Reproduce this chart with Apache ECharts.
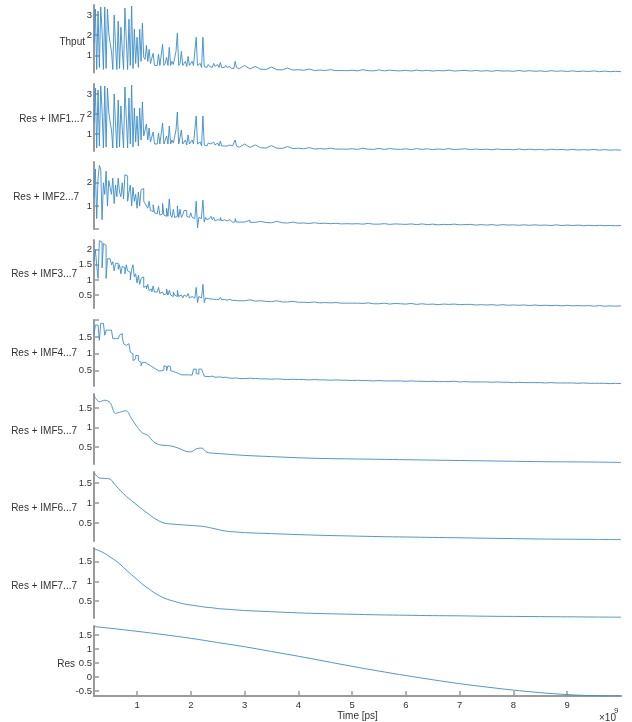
<!DOCTYPE html>
<html>
<head>
<meta charset="utf-8">
<script src="https://cdn.jsdelivr.net/npm/echarts@6/dist/echarts.min.js"></script>
<style>html,body{margin:0;padding:0;background:#fff}#c{width:632px;height:722px}</style>
</head>
<body>
<div id="c"></div>
<script>
// ---- time grids (units of 1e9 ps) ----
const tDenseStart = 0.2, tDenseStep = 0.025, tDenseCount = 108;
const tTailStart = 2.9, tTailStep = 0.1, tTailCount = 72;
// smooth-series time points
const tSmooth = [0.2,0.3,0.4,0.5,0.6,0.7,0.8,0.9,1.0,1.1,1.2,1.3,1.4,1.5,1.6,1.7,1.8,1.9,2.0,2.1,2.2,2.3,2.4,2.5,2.6,2.7,2.8,2.9,3.0,3.5,4.0,4.5,5.0,5.5,6.0,6.5,7.0,7.5,8.0,8.5,9.0,9.5,10.0];
const tRes = [0.2,0.5,1.0,1.5,2.0,2.5,3.0,3.5,4.0,4.5,5.0,5.5,6.0,6.5,7.0,7.5,8.0,8.5,9.0,9.5,10.0];

// ---- labels ----
const rowLabels = ['Thput','Res + IMF1...7','Res + IMF2...7','Res + IMF3...7','Res + IMF4...7','Res + IMF5...7','Res + IMF6...7','Res + IMF7...7','Res'];
const xTicks = [1,2,3,4,5,6,7,8,9];
const xTitle = 'Time [ps]';

// ---- series values ----
const thputHead = [
 1.6,3.3,0.3,3.2,0.4,3.4,2.2,0.3,3.4,0.35,
 3.3,2.1,1.6,1.2,0.3,3.0,1.5,0.3,2.7,0.35,
 2.4,1.3,0.3,3.35,3.3,0.3,2.8,0.5,3.45,0.35,
 2.3,0.6,1.9,0.4,2.3,0.7,2.6,0.9,0.8,1.5,
 0.7,1.3,0.6,0.55,1.1,0.5,0.55,0.5,1.05,0.5,
 0.55,1.55,0.5,0.6,0.9,0.5,1.4,0.5,0.7,0.55,
 0.6,1.2,2.1,0.5,0.6,1.2,0.5,0.6,0.7,0.45,
 0.95,0.5,0.45,0.7,0.5,0.45,1.9,0.5,0.45,0.6,
 0.4,1.9,0.45,0.5,0.4,0.55,0.45,0.5,0.4,0.6,
 0.45,0.42,0.55,0.4,0.65,0.4,0.45,0.4,0.5,0.4,
 0.38,0.45,0.35,0.4,0.35,0.7,0.4,0.35];
const thputTail = [
 0.34,0.50,0.33,0.45,0.31,0.30,0.42,0.29,0.28,0.37,
 0.27,0.29,0.26,0.32,0.25,0.27,0.25,0.29,0.24,0.25,
 0.24,0.26,0.23,0.29,0.24,0.23,0.28,0.23,0.27,0.24,
 0.23,0.26,0.22,0.27,0.23,0.26,0.22,0.25,0.23,0.27,
 0.22,0.24,0.26,0.22,0.25,0.22,0.24,0.21,0.25,0.22,
 0.23,0.21,0.25,0.21,0.24,0.21,0.23,0.2,0.24,0.21,
 0.23,0.2,0.23,0.2,0.22,0.2,0.23,0.19,0.22,0.19,
 0.21,0.19];
// Res + IMF1..7 reconstructs the full signal
const imf1Head = thputHead;
const imf1Tail = thputTail;

const imf2Head = [
 1.35,2.6,0.45,2.2,2.75,2.6,0.4,2.0,1.5,2.5,
 1.0,2.1,1.8,1.5,2.2,1.1,1.9,1.4,2.2,1.6,
 1.4,2.0,1.3,2.35,2.3,1.2,1.6,1.9,1.0,1.8,
 1.2,1.5,0.9,1.6,1.0,1.7,1.75,1.2,1.1,1.0,
 0.9,1.2,0.8,0.75,1.05,0.7,0.65,0.7,1.0,0.6,
 0.65,1.1,0.6,0.55,0.9,0.55,1.3,0.6,0.5,0.85,
 0.5,0.55,1.0,0.5,0.85,0.5,0.6,0.8,0.8,0.55,
 0.5,0.45,0.7,0.5,0.45,0.5,1.2,0.05,0.5,0.45,
 0.55,1.25,0.3,0.5,0.4,0.45,0.4,0.55,0.4,0.5,
 0.35,0.4,0.35,0.38,0.5,0.35,0.4,0.33,0.35,0.32,
 0.4,0.32,0.3,0.35,0.3,0.45,0.3,0.3];
const imf2Tail = [
 0.3,0.38,0.29,0.33,0.28,0.27,0.33,0.27,0.26,0.3,
 0.25,0.26,0.24,0.27,0.24,0.25,0.23,0.25,0.22,0.23,
 0.22,0.23,0.21,0.24,0.21,0.21,0.23,0.2,0.22,0.21,
 0.2,0.22,0.19,0.22,0.19,0.21,0.18,0.2,0.19,0.21,
 0.18,0.19,0.2,0.17,0.19,0.17,0.19,0.16,0.19,0.17,
 0.18,0.16,0.18,0.16,0.18,0.16,0.17,0.15,0.18,0.15,
 0.17,0.15,0.17,0.14,0.16,0.14,0.16,0.14,0.15,0.14,
 0.15,0.13];

const imf3Head = [
 1.6,2.0,1.5,1.05,2.3,2.25,1.4,2.2,2.15,1.05,
 1.7,1.7,1.65,1.5,1.6,1.3,1.55,1.55,1.35,1.5,
 1.2,1.45,1.4,1.2,1.5,1.3,1.25,1.0,1.35,1.5,
 1.1,1.2,0.9,1.15,0.85,1.05,1.1,0.75,0.8,0.7,
 0.85,0.65,0.7,0.6,0.8,0.6,0.6,0.55,0.75,0.55,
 0.6,0.6,0.5,0.55,0.7,0.5,0.65,0.5,0.45,0.6,
 0.5,0.45,0.65,0.45,0.5,0.55,0.4,0.5,0.45,0.4,
 0.55,0.4,0.45,0.5,0.4,0.45,0.75,0.25,0.45,0.4,
 0.4,0.85,0.25,0.4,0.38,0.4,0.37,0.42,0.36,0.4,
 0.35,0.36,0.35,0.36,0.42,0.34,0.35,0.34,0.33,0.34,
 0.36,0.33,0.32,0.33,0.32,0.35,0.31,0.31];
const imf3Tail = [
 0.31,0.34,0.3,0.31,0.29,0.28,0.31,0.27,0.27,0.29,
 0.26,0.26,0.25,0.27,0.24,0.25,0.24,0.25,0.23,0.23,
 0.23,0.23,0.22,0.24,0.21,0.21,0.23,0.2,0.22,0.21,
 0.2,0.22,0.19,0.21,0.19,0.2,0.18,0.2,0.19,0.2,
 0.18,0.19,0.19,0.17,0.18,0.17,0.18,0.16,0.18,0.16,
 0.17,0.16,0.17,0.15,0.17,0.15,0.16,0.15,0.16,0.14,
 0.16,0.14,0.15,0.14,0.15,0.13,0.15,0.13,0.14,0.13,
 0.14,0.13];

const imf4Head = [
 1.55,1.85,1.85,1.8,1.4,1.9,1.9,1.85,1.55,1.7,
 1.7,1.65,1.7,1.65,1.45,1.45,1.5,1.45,1.5,1.55,
 1.6,1.5,1.3,1.25,1.2,1.3,1.3,1.05,1.0,0.8,
 0.85,0.95,0.95,0.8,0.75,0.65,0.75,0.75,0.7,0.7,
 0.65,0.65,0.6,0.6,0.55,0.55,0.5,0.5,0.55,0.5,
 0.5,0.52,0.65,0.62,0.5,0.65,0.62,0.5,0.48,0.48,
 0.45,0.45,0.42,0.4,0.38,0.4,0.38,0.4,0.38,0.37,
 0.38,0.36,0.37,0.36,0.55,0.55,0.42,0.4,0.55,0.55,
 0.55,0.45,0.34,0.33,0.35,0.33,0.32,0.34,0.32,0.31,
 0.33,0.31,0.3,0.32,0.31,0.3,0.3,0.31,0.29,0.29,
 0.3,0.28,0.29,0.28,0.28,0.29,0.27,0.27];
const imf4Tail = [
 0.27,0.28,0.27,0.26,0.26,0.25,0.26,0.25,0.24,0.25,
 0.24,0.24,0.23,0.24,0.23,0.23,0.22,0.23,0.22,0.22,
 0.21,0.22,0.21,0.21,0.2,0.21,0.2,0.2,0.2,0.2,
 0.19,0.2,0.19,0.19,0.18,0.19,0.18,0.18,0.18,0.19,
 0.17,0.18,0.17,0.17,0.17,0.17,0.16,0.17,0.16,0.16,
 0.15,0.16,0.15,0.15,0.15,0.15,0.14,0.15,0.14,0.14,
 0.14,0.14,0.13,0.14,0.13,0.13,0.13,0.13,0.12,0.13,
 0.12,0.12];

const imf5 = [1.82,1.66,1.70,1.64,1.36,1.40,1.43,1.22,1.02,0.86,0.80,0.64,0.56,0.54,0.53,0.50,0.45,0.39,0.37,0.45,0.47,0.36,0.34,0.33,0.32,0.31,0.30,0.29,0.28,0.25,0.22,0.20,0.19,0.18,0.17,0.16,0.15,0.14,0.13,0.12,0.115,0.11,0.10];
const imf6 = [1.76,1.63,1.62,1.60,1.45,1.30,1.17,1.06,0.95,0.84,0.74,0.64,0.56,0.50,0.48,0.47,0.46,0.45,0.44,0.43,0.42,0.40,0.37,0.34,0.31,0.29,0.28,0.27,0.26,0.235,0.21,0.19,0.175,0.16,0.15,0.14,0.13,0.12,0.11,0.10,0.095,0.09,0.085];
const imf7 = [1.83,1.78,1.71,1.62,1.53,1.42,1.29,1.17,1.05,0.93,0.83,0.73,0.65,0.58,0.53,0.49,0.45,0.42,0.40,0.38,0.36,0.34,0.33,0.31,0.30,0.29,0.28,0.27,0.26,0.23,0.20,0.18,0.165,0.15,0.14,0.13,0.125,0.115,0.11,0.105,0.10,0.095,0.09];
const res = [1.80,1.74,1.63,1.51,1.38,1.23,1.08,0.91,0.74,0.56,0.38,0.21,0.05,-0.10,-0.24,-0.36,-0.47,-0.56,-0.63,-0.67,-0.68];

// ---- axis tick values ----
const yTickSets = [[1,2,3],[1,2,3],[0,1,2],[0.5,1,1.5,2],[0.5,1,1.5,2],[0.5,1,1.5],[0.5,1,1.5],[0.5,1,1.5],[-0.5,0,0.5,1,1.5]];
const yLabelSets = [[1,2,3],[1,2,3],[1,2],[0.5,1,1.5,2],[0.5,1,1.5],[0.5,1,1.5],[0.5,1,1.5],[0.5,1,1.5],[-0.5,0,0.5,1,1.5]];
const yMins = [0.15,0.15,0,0.07,0.05,0.06,0.05,0.07,-0.68];
const yMaxs = [3.5,3.5,2.9,2.32,2,1.86,1.78,1.85,1.82];

// ---- layout (styling only) ----
const gridTops = [5,84,162,240,320,394,472,548,626];
const gridHeights = [67.5,67,67,68,66,70,69,70,70];
const nameGaps = [9,9,15,17,17,17,17,17,19];
const nameShift = [3,2,2,0,0,2,2,3,3];
const useStep = [false,false,true,true,true,false,false,false,false];

function noisyData(head, tail){
  const out = [];
  for (let i=0;i<head.length;i++) out.push([+(tDenseStart + i*tDenseStep).toFixed(4), head[i]]);
  for (let i=0;i<tail.length;i++) out.push([+(tTailStart + i*tTailStep).toFixed(4), tail[i]]);
  return out;
}
function zip(t, v){ return t.map((x,i)=>[x, v[i]]); }

const seriesData = [
  noisyData(thputHead, thputTail),
  noisyData(imf1Head, imf1Tail),
  noisyData(imf2Head, imf2Tail),
  noisyData(imf3Head, imf3Tail),
  noisyData(imf4Head, imf4Tail),
  zip(tSmooth, imf5),
  zip(tSmooth, imf6),
  zip(tSmooth, imf7),
  zip(tRes, res)
];

const axisGray = '#9a9a9a';
const txt = '#333333';
const font = 'Liberation Sans, Arial, Helvetica, sans-serif';
const lineColor = '#3a8ccb';
const tickFont = 9.5;

const grids = [], xAxes = [], yAxes = [], series = [];
for (let k=0;k<9;k++){
  const last = k === 8;
  grids.push({left:94, width:527, top:gridTops[k], height:gridHeights[k]});
  xAxes.push({
    type:'value', gridIndex:k, min:0.2, max:10, show:last,
    name: last ? xTitle : '', nameLocation:'middle', nameGap:15, nameMoveOverlap:false,
    nameTextStyle:{color:txt, fontSize:10, fontFamily:font},
    axisLine:{show:true, onZero:false, lineStyle:{color:axisGray, width:2}},
    axisTick:{show:true, inside:true, length:5, customValues:xTicks, lineStyle:{color:axisGray, width:1.5}},
    axisLabel:{show:true, customValues:xTicks, margin:4, color:txt, fontSize:tickFont, fontFamily:font},
    splitLine:{show:false}
  });
  yAxes.push({
    type:'value', gridIndex:k, min:yMins[k], max:yMaxs[k],
    name: '{n|' + rowLabels[k] + '}', nameLocation:'middle', nameRotate:0, nameGap:nameGaps[k], nameMoveOverlap:false,
    nameTextStyle:{color:txt, fontSize:10, fontFamily:font, align:'right', verticalAlign:'middle',
      rich:{n:{color:txt, fontSize:10, fontFamily:font, padding:[nameShift[k]*2,0,0,0]}}},
    axisLine:{show:true, onZero:false, lineStyle:{color:axisGray, width:2}},
    axisTick:{show:true, inside:true, length:5, customValues:yTickSets[k], lineStyle:{color:axisGray, width:1.5}},
    axisLabel:{show:true, customValues:yLabelSets[k], margin:2, color:txt, fontSize:tickFont, fontFamily:font},
    splitLine:{show:false}
  });
  series.push({
    type:'line', xAxisIndex:k, yAxisIndex:k, data:seriesData[k],
    showSymbol:false, symbol:'none', step: useStep[k] ? 'end' : false,
    smooth: k >= 5 ? 0.3 : false,
    lineStyle:{color:lineColor, width:0.9}, animation:false, silent:true
  });
}

const chart = echarts.init(document.getElementById('c'), null, {renderer:'canvas'});
chart.setOption({
  backgroundColor:'#ffffff',
  animation:false,
  grid:grids, xAxis:xAxes, yAxis:yAxes, series:series,
  graphic:[
    {type:'text', left:599, top:713, style:{text:'×10', fill:txt, font:'10px ' + font}},
    {type:'text', left:614, top:707, style:{text:'9', fill:txt, font:'8px ' + font}}
  ]
});
</script>
</body>
</html>
